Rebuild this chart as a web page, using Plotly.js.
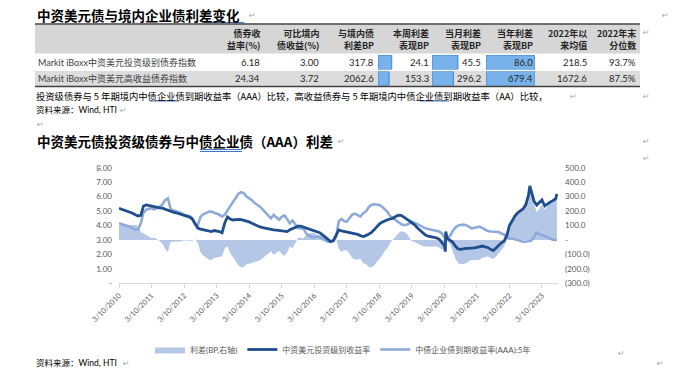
<!DOCTYPE html>
<html><head><meta charset="utf-8">
<script src="https://cdn.plot.ly/plotly-3.0.1.min.js"></script>
<style>html,body{margin:0;padding:0;background:#fff;}#chart{width:677px;height:375px;}</style>
</head><body><div id="chart"></div>
<script>
// ---------------- chart data ----------------
const dates = [
'2010-03-10','2010-04-10','2010-05-10','2010-06-10','2010-07-10','2010-08-10','2010-09-10','2010-10-10','2010-11-10','2010-12-10',
'2011-01-10','2011-02-10','2011-03-10','2011-04-10','2011-05-10','2011-06-10','2011-07-10','2011-08-10','2011-09-10','2011-10-10','2011-11-10','2011-12-10',
'2012-01-10','2012-02-10','2012-03-10','2012-04-10','2012-05-10','2012-06-10','2012-07-10','2012-08-10','2012-09-10','2012-10-10','2012-11-10','2012-12-10',
'2013-01-10','2013-02-10','2013-03-10','2013-04-10','2013-05-10','2013-06-10','2013-07-10','2013-08-10','2013-09-10','2013-10-10','2013-11-10','2013-12-10',
'2014-01-10','2014-02-10','2014-03-10','2014-04-10','2014-05-10','2014-06-10','2014-07-10','2014-08-10','2014-09-10','2014-10-10','2014-11-10','2014-12-10',
'2015-01-10','2015-02-10','2015-03-10','2015-04-10','2015-05-10','2015-06-10','2015-07-10','2015-08-10','2015-09-10','2015-10-10','2015-11-10','2015-12-10',
'2016-01-10','2016-02-10','2016-03-10','2016-04-10','2016-05-10','2016-06-10','2016-07-10','2016-08-10','2016-09-10','2016-10-10','2016-11-10','2016-12-10',
'2017-01-10','2017-02-10','2017-03-10','2017-04-10','2017-05-10','2017-06-10','2017-07-10','2017-08-10','2017-09-10','2017-10-10','2017-11-10','2017-12-10',
'2018-01-10','2018-02-10','2018-03-10','2018-04-10','2018-05-10','2018-06-10','2018-07-10','2018-08-10','2018-09-10','2018-10-10','2018-11-10','2018-12-10',
'2019-01-10','2019-02-10','2019-03-10','2019-04-10','2019-05-10','2019-06-10','2019-07-10','2019-08-10','2019-09-10','2019-10-10','2019-11-10','2019-12-10',
'2020-01-10','2020-02-10','2020-03-10','2020-03-20','2020-03-25','2020-04-10','2020-05-10','2020-06-10','2020-07-10','2020-08-10','2020-09-10','2020-10-10','2020-11-10','2020-12-10',
'2021-01-10','2021-02-10','2021-03-10','2021-04-10','2021-05-10','2021-06-10','2021-07-10','2021-08-10','2021-09-10','2021-10-10','2021-11-10','2021-12-10',
'2022-01-10','2022-02-10','2022-03-10','2022-04-10','2022-05-10','2022-06-10','2022-07-10','2022-08-10','2022-09-10','2022-10-10','2022-10-25','2022-11-10','2022-12-10',
'2023-01-10','2023-02-10','2023-03-10','2023-04-10','2023-05-10','2023-06-10','2023-07-10','2023-08-10','2023-08-25'];

// 中资美元投资级别收益率 (%)
const igYield = [
5.19,5.12,5.07,5.00,4.95,4.85,4.75,4.66,4.70,5.35,
5.42,5.38,5.30,5.28,5.25,5.22,5.20,5.12,5.05,5.00,4.92,4.88,
4.82,4.78,4.73,4.65,4.58,4.45,4.15,3.82,3.75,3.70,3.66,3.60,
3.58,3.65,3.62,3.58,3.50,4.20,4.60,4.45,4.38,4.42,4.43,4.40,
4.36,4.32,4.25,4.15,4.05,3.95,3.90,3.85,3.80,3.78,3.72,3.70,
3.68,3.65,3.62,3.60,3.58,3.70,3.78,3.85,3.95,3.95,3.88,3.82,
3.76,3.72,3.66,3.58,3.50,3.35,3.20,3.05,2.88,2.95,3.30,3.69,
3.62,3.58,3.56,3.55,3.50,3.45,3.38,3.30,3.24,3.30,3.38,3.50,
3.70,3.90,4.10,4.22,4.33,4.40,4.45,4.50,4.62,4.72,4.70,4.58,
4.50,4.32,4.18,4.05,3.85,3.69,3.50,3.34,3.26,3.23,3.20,3.15,
3.05,2.80,2.60,2.19,3.58,3.11,3.00,2.85,2.58,2.38,2.35,2.40,2.42,2.42,
2.42,2.45,2.49,2.55,2.58,2.52,2.48,2.35,2.26,2.45,2.65,2.80,
2.92,3.34,4.00,4.35,4.65,4.88,5.00,5.15,5.45,6.10,6.74,6.30,5.70,
5.42,5.60,5.77,5.35,5.50,5.62,5.72,5.85,6.18];

// 中债企业债到期收益率(AAA):5年 (%)
const aaaYield = [
4.15,4.10,4.04,3.98,3.92,3.80,3.70,3.72,4.15,4.90,
5.10,5.15,5.19,5.12,5.20,5.30,5.45,5.75,5.88,5.15,5.05,4.98,
4.95,4.85,4.75,4.70,4.65,4.50,4.10,4.00,4.60,4.78,4.88,4.95,
4.96,4.90,4.84,4.75,4.62,4.75,5.05,5.35,5.62,5.90,6.20,6.30,
6.22,6.00,5.90,5.75,5.55,5.42,5.30,5.10,4.90,4.70,4.50,4.73,
4.55,4.40,4.60,4.70,4.45,4.15,4.35,4.10,3.82,3.80,3.78,3.45,
3.30,3.22,3.18,3.25,3.20,3.05,2.95,2.88,2.90,2.92,3.20,4.30,
4.45,4.30,4.27,4.50,4.75,4.82,4.70,4.62,4.85,4.96,5.25,5.42,
5.47,5.45,5.42,5.30,5.10,4.95,4.65,4.50,4.38,4.25,4.10,4.02,
4.05,4.15,4.27,4.20,4.10,4.04,3.92,3.80,3.75,3.70,3.66,3.60,
3.58,3.46,3.20,3.11,3.15,3.18,3.25,3.60,3.85,4.00,4.04,4.06,4.02,3.90,
3.80,3.85,3.90,3.92,3.82,3.69,3.62,3.58,3.58,3.60,3.55,3.45,
3.38,3.20,3.11,3.10,3.05,2.98,2.92,2.88,2.88,2.90,2.90,2.95,3.20,
3.50,3.42,3.34,3.25,3.15,3.08,3.02,3.00,3.00];

// 利差 (BP, 右轴)
const spreadBP = [
104,102,103,102,103,105,105,94,55,45,
32,23,11,16,5,-8,-25,-63,-83,-15,-13,-10,
-13,-7,-2,-5,-7,-5,5,-18,-85,-108,-122,-135,
-138,-125,-122,-117,-112,-55,-45,-90,-124,-148,-177,-190,
-186,-168,-165,-160,-150,-147,-140,-125,-110,-92,-78,-103,
-87,-75,-98,-110,-87,-45,-57,-25,13,15,10,37,
46,50,48,33,30,30,25,17,-2,3,10,-61,
-83,-72,-71,-95,-125,-137,-132,-132,-161,-166,-187,-192,
-177,-155,-132,-108,-77,-55,-20,0,24,47,60,56,
45,17,-9,-15,-25,-35,-42,-46,-49,-47,-46,-45,
-53,-66,-60,-92,43,-7,-25,-75,-127,-162,-169,-166,-160,-148,
-138,-140,-141,-137,-124,-117,-114,-123,-132,-115,-90,-65,
-46,14,89,125,160,190,208,227,257,320,384,335,250,
192,218,243,210,235,254,270,285,317.8];

const seriesNames = ['利差(BP,右轴)', '中资美元投资级别收益率', '中债企业债到期收益率(AAA):5年'];
const xTickDates = ['2010-03-10','2011-03-10','2012-03-10','2013-03-10','2014-03-10','2015-03-10','2016-03-10','2017-03-10','2018-03-10','2019-03-10','2020-03-10','2021-03-10','2022-03-10','2023-03-10'];
const xTickLabels = ['3/10/2010','3/10/2011','3/10/2012','3/10/2013','3/10/2014','3/10/2015','3/10/2016','3/10/2017','3/10/2018','3/10/2019','3/10/2020','3/10/2021','3/10/2022','3/10/2023'];
const yLeftTicks = [0,1,2,3,4,5,6,7,8];
const yLeftLabels = ['-','1.00','2.00','3.00','4.00','5.00','6.00','7.00','8.00'];
const yRightTicks = [-300,-200,-100,0,100,200,300,400,500];
const yRightLabels = ['(300.0)','(200.0)','(100.0)','-','100.0','200.0','300.0','400.0','500.0'];

// ---------------- table data ----------------
const tableHeaders = ['债券收<br>益率(%)','可比境内<br>债收益(%)','与境内债<br>利差BP','本周利差<br>表现BP','当月利差<br>表现BP','当年利差<br>表现BP','2022年以<br>来均值','2022年末<br>分位数'];
const rowNames = ['Markit iBoxx中资美元投资级别债券指数','Markit iBoxx中资美元高收益债券指数'];
const bondYield = [6.18, 24.34];
const domYield = [3.00, 3.72];
const spreadNow = [317.8, 2062.6];
const weekBP = [24.1, 153.3];
const monthBP = [45.5, 296.2];
const ytdBP = [86.0, 679.4];
const avg2022 = [218.5, 1672.6];
const pct2022 = ['93.7%', '87.5%'];

// ---------------- layout helpers ----------------
const W = 677, H = 375;
const px = v => v / W;
const py = v => 1 - v / H;
const LAT = 'Lato, "Noto Sans CJK SC", sans-serif';
const CJK = '"Noto Sans CJK SC", sans-serif';

const traces = [];
// spread area (primary y = BP axis, right side)
traces.push({
  type: 'scatter', mode: 'lines', x: dates, y: spreadBP, name: seriesNames[0],
  xaxis: 'x', yaxis: 'y', fill: 'tozeroy', fillcolor: '#b4c7e7',
  line: {width: 0, color: '#b4c7e7'}, legendrank: 1, hoverinfo: 'skip'
});
traces.push({
  type: 'scatter', mode: 'lines', x: dates, y: aaaYield, name: seriesNames[2],
  xaxis: 'x', yaxis: 'y2', line: {width: 2.6, color: '#8eaadb'}, legendrank: 3, hoverinfo: 'skip'
});
traces.push({
  type: 'scatter', mode: 'lines', x: dates, y: igYield, name: seriesNames[1],
  xaxis: 'x', yaxis: 'y2', line: {width: 2.8, color: '#1f4e8c'}, legendrank: 2, hoverinfo: 'skip'
});

// table data bars (scaled per row, as in the sheet)
const barCols = [weekBP, monthBP, ytdBP];
const barStart = [378, 432, 486];
const barFull = 49;
const rowBands = [[55, 69.5], [71.5, 85.5]];
const layoutAxes = {};
for (let r = 0; r < 2; r++) {
  const rowMax = Math.max(weekBP[r], monthBP[r], ytdBP[r]);
  const yId = 3 + r;
  layoutAxes['yaxis' + yId] = {domain: [py(rowBands[r][1]), py(rowBands[r][0])], range: [-0.5, 0.5], visible: false, fixedrange: true, anchor: 'x' + (2 + r * 3)};
  for (let c = 0; c < 3; c++) {
    const k = 2 + r * 3 + c;
    layoutAxes['xaxis' + k] = {domain: [px(barStart[c]), px(barStart[c] + barFull)], range: [0, rowMax], visible: false, fixedrange: true, anchor: 'y' + yId};
    traces.push({
      type: 'bar', orientation: 'h', x: [barCols[c][r]], y: [0], width: [1],
      xaxis: 'x' + k, yaxis: 'y' + yId, showlegend: false, hoverinfo: 'skip',
      marker: {color: '#78b2ea', line: {color: '#3b86d4', width: 1}}
    });
  }
}

// ---------------- annotations ----------------
const ann = [];
function T(text, x, y, size, opts) {
  ann.push(Object.assign({text: text, x: px(x), y: py(y), xref: 'paper', yref: 'paper', showarrow: false,
    xanchor: 'left', yanchor: 'middle', font: {size: size, family: LAT, color: '#262626'}}, opts || {}));
}
T('<b>中资美元债与境内企业债利差变化</b>', 35, 15, 13.5, {font: {size: 13.5, family: CJK, color: '#000'}});
const colRight = [262, 321, 376, 431, 483, 535, 589, 638];
tableHeaders.forEach((h, i) => T('<b>' + h + '</b>', colRight[i], 39.5, 9, {xanchor: 'right', align: 'right', font: {size: 9, family: CJK, color: '#262626'}}));
const rowY = [62.5, 78.5];
for (let r = 0; r < 2; r++) {
  T(rowNames[r], 36, rowY[r], 9, {font: {size: 9, family: LAT, color: '#404040'}});
  const cells = [bondYield[r].toFixed(2), domYield[r].toFixed(2), spreadNow[r].toFixed(1), weekBP[r].toFixed(1),
                 monthBP[r].toFixed(1), ytdBP[r].toFixed(1), avg2022[r].toFixed(1), pct2022[r]];
  cells.forEach((s, i) => T(s, colRight[i], rowY[r], 9.5, {xanchor: 'right', font: {size: 9.5, family: LAT, color: '#262626'}}));
}
T('投资级债券与 5 年期境内中债企业债到期收益率（AAA）比较，高收益债券与 5 年期境内中债企业债到期收益率（AA）比较，', 34, 96, 9.3, {font: {size: 9.3, family: CJK, color: '#000'}});
T('资料来源：Wind, HTI', 34, 110, 8.5, {font: {size: 8.5, family: LAT, color: '#000'}});
T('<b>中资美元债投资级债券与中债企业债（AAA）利差</b>', 35, 141, 13.5, {font: {size: 13.5, family: CJK, color: '#000'}});
T('资料来源：Wind, HTI', 34, 363, 8.5, {font: {size: 8.5, family: LAT, color: '#000'}});
// paragraph marks
const pm = [[247, 16], [660, 15], [641, 33], [568, 96], [641, 96], [118, 110], [35, 124], [336, 141], [641, 141], [641, 159], [616, 353], [655, 363], [121, 363]];
pm.forEach(p => T('↵', p[0], p[1], 8, {font: {size: 8, family: 'DejaVu Sans', color: '#a6a6a6'}}));

// ---------------- shapes (table frame, marks) ----------------
const shapes = [
  {type: 'rect', xref: 'paper', yref: 'paper', x0: px(35), x1: px(640), y0: py(53.5), y1: py(24.5), fillcolor: '#d6d6d6', line: {width: 0}, layer: 'below'},
  {type: 'rect', xref: 'paper', yref: 'paper', x0: px(35), x1: px(640), y0: py(86), y1: py(71), fillcolor: '#dcdcdc', line: {width: 0}, layer: 'below'},
  {type: 'line', xref: 'paper', yref: 'paper', x0: px(35), x1: px(640), y0: py(24), y1: py(24), line: {color: '#404040', width: 1.6}},
  {type: 'line', xref: 'paper', yref: 'paper', x0: px(35), x1: px(640), y0: py(86.5), y1: py(86.5), line: {color: '#404040', width: 1.6}},
  // spelling marks
  {type: 'line', xref: 'paper', yref: 'paper', x0: px(204), x1: px(244), y0: py(22.5), y1: py(22.5), line: {color: '#4472c4', width: 1}},
  {type: 'line', xref: 'paper', yref: 'paper', x0: px(150), x1: px(179), y0: py(101), y1: py(101), line: {color: '#4472c4', width: 1}},
  {type: 'line', xref: 'paper', yref: 'paper', x0: px(420), x1: px(449), y0: py(101), y1: py(101), line: {color: '#4472c4', width: 1}},
  {type: 'line', xref: 'paper', yref: 'paper', x0: px(200), x1: px(242), y0: py(149.5), y1: py(149.5), line: {color: '#4472c4', width: 1}},
  {type: 'line', xref: 'paper', yref: 'paper', x0: px(200), x1: px(242), y0: py(151.5), y1: py(151.5), line: {color: '#4472c4', width: 1}}
];

const layout = Object.assign({
  width: W, height: H, margin: {l: 0, r: 0, t: 0, b: 0},
  paper_bgcolor: '#ffffff', plot_bgcolor: 'rgba(0,0,0,0)',
  font: {family: LAT, size: 8, color: '#595959'},
  showlegend: true, hovermode: false, barmode: 'overlay',
  xaxis: {
    type: 'date', domain: [px(119), px(558)], range: ['2010-03-10', '2023-09-06'], anchor: 'y',
    tickvals: xTickDates, ticktext: xTickLabels, tickangle: -45,
    tickfont: {size: 7.5, color: '#595959', family: LAT},
    showline: true, linecolor: '#d9d9d9', linewidth: 1, ticks: 'outside', ticklen: 4, tickcolor: '#d9d9d9',
    showgrid: false, zeroline: false, fixedrange: true
  },
  yaxis: {
    domain: [py(283.3), py(167.7)], side: 'right', range: [-300, 500], anchor: 'x',
    tickvals: yRightTicks, ticktext: yRightLabels, tickfont: {size: 8, color: '#595959', family: LAT},
    showgrid: false, zeroline: false, showline: false, ticks: '', ticklabelstandoff: 6, fixedrange: true
  },
  yaxis2: {
    overlaying: 'y', side: 'left', range: [0, 8], anchor: 'x',
    tickvals: yLeftTicks, ticktext: yLeftLabels, tickfont: {size: 8, color: '#595959', family: LAT},
    showgrid: false, zeroline: false, showline: false, ticks: '', ticklabelstandoff: 6, fixedrange: true
  },
  legend: {
    orientation: 'h', x: px(150), y: py(335), xanchor: 'left', yanchor: 'top',
    font: {size: 8, color: '#595959', family: LAT}, bgcolor: 'rgba(0,0,0,0)', itemwidth: 30
  },
  annotations: ann, shapes: shapes
}, layoutAxes);

Plotly.newPlot('chart', traces, layout, {displayModeBar: false, staticPlot: true});
</script>
</body></html>
